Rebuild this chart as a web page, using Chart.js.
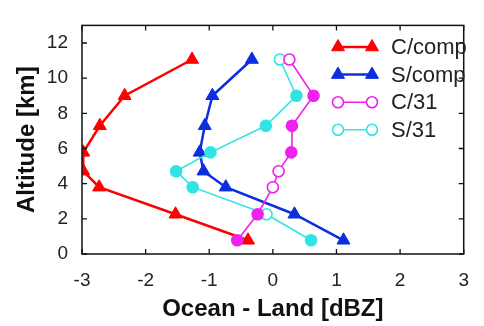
<!DOCTYPE html>
<html>
<head>
<meta charset="utf-8">
<script src="https://cdn.jsdelivr.net/npm/chart.js@4.4.1/dist/chart.umd.min.js"></script>
<style>
  html, body { margin: 0; padding: 0; background: #fff; }
</style>
</head>
<body>
<canvas id="chart" width="484" height="326"></canvas>
<script>
// altitude levels [km] shared by all profiles
const altitudes = [0.78, 2.26, 3.80, 4.71, 5.78, 7.29, 9.00, 11.06];
// ocean - land difference [dBZ]
const cComp = [-0.39, -1.53, -2.73, -2.98, -2.98, -2.72, -2.33, -1.27];
const sComp = [1.11, 0.34, -0.74, -1.09, -1.15, -1.07, -0.95, -0.33];
const c31 = [-0.56, -0.24, 0.00, 0.09, 0.29, 0.30, 0.64, 0.26];
const s31 = [0.60, -0.10, -1.26, -1.52, -0.98, -0.11, 0.37, 0.11];
// filled marker where true, open marker where false
const c31Filled = [true, true, false, false, true, true, true, false];
const s31Filled = [true, false, true, true, true, true, true, false];
const seriesLabels = ['C/comp', 'S/comp', 'C/31', 'S/31'];
const xTicks = [-3, -2, -1, 0, 1, 2, 3];
const yTicks = [0, 2, 4, 6, 8, 10, 12];

const RED = '#ff0000', BLUE = '#0b2fe0', MAGENTA = '#f020f0', CYAN = '#30e4e4';
const FONT = "'Liberation Sans', Arial, sans-serif";

const toPoints = vals => vals.map((v, i) => ({x: v, y: altitudes[i]}));
const fills = (flags, col) => flags.map(f => f ? col : '#ffffff');

// box around the plot with inward ticks on all four sides
const frame = {
  id: 'frame',
  afterDatasetsDraw(chart) {
    const {ctx, chartArea: a, scales: {x, y}} = chart;
    ctx.save();
    ctx.strokeStyle = '#111';
    ctx.lineWidth = 1.5;
    ctx.strokeRect(a.left, a.top, a.right - a.left, a.bottom - a.top);
    ctx.lineWidth = 1.3;
    ctx.beginPath();
    xTicks.forEach(v => {
      const px = x.getPixelForValue(v);
      ctx.moveTo(px, a.bottom); ctx.lineTo(px, a.bottom - 5);
      ctx.moveTo(px, a.top); ctx.lineTo(px, a.top + 5);
    });
    yTicks.forEach(v => {
      const py = y.getPixelForValue(v);
      ctx.moveTo(a.left, py); ctx.lineTo(a.left + 5, py);
      ctx.moveTo(a.right, py); ctx.lineTo(a.right - 5, py);
    });
    ctx.stroke();
    ctx.restore();
  }
};

// legend: short line with a marker at each end, then the label
const lineLegend = {
  id: 'lineLegend',
  afterDraw(chart) {
    const ctx = chart.ctx;
    const x0 = 338, x1 = 372, tx = 391, y0 = 47, dy = 27.6;
    ctx.save();
    chart.data.datasets.forEach((ds, i) => {
      const yy = y0 + i * dy;
      ctx.strokeStyle = ds.borderColor;
      ctx.lineWidth = ds.borderWidth;
      ctx.beginPath(); ctx.moveTo(x0, yy); ctx.lineTo(x1, yy); ctx.stroke();
      const filled = ds.pointStyle === 'triangle';
      [x0, x1].forEach(px => {
        ctx.fillStyle = filled ? ds.borderColor : '#ffffff';
        ctx.strokeStyle = ds.borderColor;
        ctx.lineWidth = ds.pointBorderWidth;
        Chart.helpers.drawPoint(ctx, {pointStyle: ds.pointStyle, radius: ds.pointRadius, borderWidth: ds.pointBorderWidth, rotation: 0}, px, yy);
      });
      ctx.fillStyle = '#222';
      ctx.font = `22px ${FONT}`;
      ctx.textBaseline = 'middle';
      ctx.textAlign = 'left';
      ctx.fillText(ds.label, tx, yy + 1);
    });
    ctx.restore();
  }
};

new Chart(document.getElementById('chart'), {
  type: 'scatter',
  data: {
    datasets: [{
      label: seriesLabels[0],
      data: toPoints(cComp),
      showLine: true,
      borderColor: RED,
      backgroundColor: RED,
      borderWidth: 2.5,
      pointStyle: 'triangle',
      pointRadius: 7.5,
      pointBorderWidth: 1,
      pointBackgroundColor: RED,
      order: 3
    }, {
      label: seriesLabels[1],
      data: toPoints(sComp),
      showLine: true,
      borderColor: BLUE,
      backgroundColor: BLUE,
      borderWidth: 2.5,
      pointStyle: 'triangle',
      pointRadius: 7.5,
      pointBorderWidth: 1,
      pointBackgroundColor: BLUE,
      order: 2
    }, {
      label: seriesLabels[2],
      data: toPoints(c31),
      showLine: true,
      borderColor: MAGENTA,
      backgroundColor: MAGENTA,
      borderWidth: 1.6,
      pointStyle: 'circle',
      pointRadius: 5.5,
      pointBorderWidth: 1.6,
      pointBackgroundColor: fills(c31Filled, MAGENTA),
      order: 0
    }, {
      label: seriesLabels[3],
      data: toPoints(s31),
      showLine: true,
      borderColor: CYAN,
      backgroundColor: CYAN,
      borderWidth: 1.6,
      pointStyle: 'circle',
      pointRadius: 5.5,
      pointBorderWidth: 1.6,
      pointBackgroundColor: fills(s31Filled, CYAN),
      order: 1
    }]
  },
  options: {
    responsive: false,
    animation: false,
    devicePixelRatio: 1,
    layout: {padding: {top: 10, right: 10, left: 0, bottom: 0}},
    plugins: {legend: {display: false}, tooltip: {enabled: false}},
    scales: {
      x: {
        type: 'linear',
        min: -3, max: 3,
        afterBuildTicks: s => { s.ticks = xTicks.map(v => ({value: v})); },
        afterFit: s => { s.height = 72; },
        grid: {display: false, drawTicks: false},
        border: {display: false},
        ticks: {color: '#222', padding: 15, font: {family: FONT, size: 19}},
        title: {display: true, text: 'Ocean - Land [dBZ]', color: '#111', padding: {top: 0, bottom: 2},
                font: {family: FONT, size: 24, weight: 'bold'}}
      },
      y: {
        type: 'linear',
        min: 0, max: 13,
        afterBuildTicks: s => { s.ticks = yTicks.map(v => ({value: v})); },
        afterFit: s => { s.width = 82; },
        grid: {display: false, drawTicks: false},
        border: {display: false},
        ticks: {color: '#222', padding: 14, font: {family: FONT, size: 19}},
        title: {display: true, text: 'Altitude [km]', color: '#111', padding: {top: 12.5, bottom: 0},
                font: {family: FONT, size: 24, weight: 'bold'}}
      }
    }
  },
  plugins: [frame, lineLegend]
});
</script>
</body>
</html>
